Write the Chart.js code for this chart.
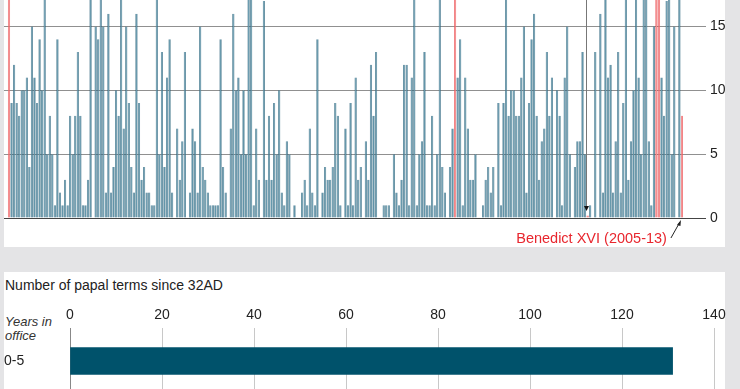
<!DOCTYPE html>
<html>
<head>
<meta charset="utf-8">
<script src="https://cdn.jsdelivr.net/npm/chart.js@4.4.0/dist/chart.umd.min.js"></script>
<style>
    body {
        margin: 0;
        width: 740px;
        height: 389px;
        overflow: hidden;
        position: relative;
        background: #e4e4e6;
        font-family: "Liberation Sans", Arial, sans-serif;
        color: #222;
    }
    .panel { position: absolute; left: 4px; width: 721px; background: #fff; }
    #topPanel { top: 0; height: 247px; }
    #bottomPanel { top: 272px; height: 130px; }
    #papalChart { position: absolute; left: 4px; top: 0; }
    #termsChart { position: absolute; left: 4px; top: 300px; }
    .title { position: absolute; left: 5px; top: 277px; font-size: 14px; }
    .axis-note { position: absolute; left: 5px; top: 315px; font-size: 13px; font-style: italic; line-height: 14px; color: #333; }
</style>
</head>
<body>
<div class="panel" id="topPanel"></div>
<div class="panel" id="bottomPanel"></div>
<canvas id="papalChart" width="721" height="247"></canvas>
<div class="title">Number of papal terms since 32AD</div>
<div class="axis-note">Years in<br>office</div>
<canvas id="termsChart" width="736" height="94"></canvas>

<script>
// Years in office, one entry per papal term (St Peter first)
const termYears = [
    34, 9, 12, 9, 8, 10, 10, 11, 4, 15,
    11, 9, 14, 10, 18, 5, 8, 5, 1, 14,
    2, 1, 3, 1, 8, 5, 8, 13, 8, 1,
    1, 3, 21, 0, 15, 14, 18, 15, 2, 16,
    2, 4, 10, 8, 21, 7, 15, 9, 4, 2,
    16, 9, 3, 4, 2, 2, 1, 1, 18, 5,
    13, 4, 11, 14, 2, 0, 7, 3, 6, 13,
    0, 2, 7, 6, 2, 15, 4, 3, 2, 1,
    1, 1, 1, 14, 4, 2, 0, 7, 16, 10,
    11, 5, 10, 5, 23, 20, 1, 7, 3, 0,
    17, 3, 8, 3, 9, 5, 10, 2, 1, 6,
    5, 0, 1, 0, 0, 2, 3, 1, 7, 2,
    1, 14, 0, 2, 4, 3, 3, 4, 9, 8,
    1, 0, 7, 1, 9, 1, 11, 3, 4, 0,
    6, 3, 12, 8, 13, 0, 0, 1, 1, 1,
    0, 5, 2, 1, 3, 12, 12, 1, 11, 18,
    1, 5, 6, 13, 1, 1, 8, 1, 5, 21,
    4, 2, 0, 4, 7, 18, 11, 14, 1, 11,
    7, 3, 3, 5, 0, 0, 1, 3, 4, 2,
    4, 0, 9, 1, 9, 18, 8, 10, 10, 8,
    8, 11, 15, 2, 9, 14, 16, 8, 3, 6,
    7, 13, 8, 11, 0, 10, 8, 1, 11, 15,
    5, 0, 4, 6, 6, 13, 5, 0.2, 1, 0,
    13, 0, 16, 2, 21, 11, 12, 2, 6, 13,
    2, 9, 20, 3, 6, 10, 18, 11, 5, 24,
    23, 6, 1, 15, 31, 25, 11, 8, 17, 19,
    5, 15, 0, 26, 8
];
const highlighted = [0, 175, 227, 254, 255, 264];
const shortestIndex = 227;
const latestIndex = 264;
const latestLabel = 'Benedict XVI (2005-13)';
const yearTicks = [0, 5, 10, 15];

const termBands = ['0-5'];
const termCounts = [131];

const teal = '#5f93a8';
const tealEdge = '#15536d';
const red = '#f38a8a';
const redEdge = '#e5262c';
const fontFamily = '"Liberation Sans", Arial, sans-serif';

// Pointer arrows next to the highlighted terms
const annotations = {
    id: 'annotations',
    afterDraw(chart) {
        const { ctx, scales: { x, y } } = chart;
        const zero = y.getPixelForValue(0);

        // thin pointer down to the shortest term
        const sx = Math.round(x.getPixelForValue(shortestIndex)) - 1.5;
        ctx.save();
        ctx.strokeStyle = '#777';
        ctx.lineWidth = 1;
        ctx.beginPath();
        ctx.moveTo(sx, 0);
        ctx.lineTo(sx, zero - 12);
        ctx.stroke();
        ctx.fillStyle = '#111';
        ctx.beginPath();
        ctx.moveTo(sx - 2.5, zero - 12);
        ctx.lineTo(sx + 2.5, zero - 12);
        ctx.lineTo(sx, zero - 7);
        ctx.closePath();
        ctx.fill();

        // label and arrow for the latest term
        const lx = x.getPixelForValue(latestIndex);
        ctx.strokeStyle = '#222';
        ctx.beginPath();
        ctx.moveTo(lx - 11, zero + 20);
        ctx.lineTo(lx - 2, zero + 4);
        ctx.stroke();
        ctx.fillStyle = '#222';
        ctx.beginPath();
        ctx.moveTo(lx - 1, zero + 2);
        ctx.lineTo(lx - 5, zero + 7);
        ctx.lineTo(lx - 1.5, zero + 8);
        ctx.closePath();
        ctx.fill();

        ctx.fillStyle = '#e8262e';
        ctx.font = '14.5px ' + fontFamily;
        ctx.textAlign = 'right';
        ctx.textBaseline = 'middle';
        ctx.fillText(latestLabel, lx - 15, zero + 21);
        ctx.restore();
    }
};

new Chart(document.getElementById('papalChart'), {
    type: 'bar',
    data: {
        datasets: [{
            data: termYears.map((v, i) => ({ x: i, y: v })),
            backgroundColor: termYears.map((v, i) => highlighted.includes(i) ? red : teal),
            borderColor: termYears.map((v, i) => highlighted.includes(i) ? redEdge : tealEdge),
            borderWidth: { left: 0.6, right: 0.6, top: 0, bottom: 0 },
            borderSkipped: 'start',
            categoryPercentage: 1,
            barPercentage: 0.86
        }]
    },
    options: {
        responsive: false,
        animation: false,
        layout: { padding: { top: 0, bottom: 29, left: 0, right: 0 } },
        plugins: { legend: { display: false }, tooltip: { enabled: false } },
        scales: {
            x: {
                type: 'linear',
                display: false,
                offset: false,
                min: -1.96,
                max: 273.44
            },
            y: {
                position: 'right',
                min: 0,
                max: 17.07,
                z: 1,
                afterBuildTicks: (scale) => { scale.ticks = yearTicks.map(v => ({ value: v })); },
                afterFit: (scale) => {
                    scale.width = 19;
                    scale.paddingTop = 0;
                    scale.paddingBottom = 0;
                },
                border: { display: false },
                grid: {
                    drawTicks: false,
                    color: (c) => c.tick && c.tick.value === 0 ? '#444' : 'rgba(70,70,70,0.6)'
                },
                ticks: {
                    padding: 4,
                    color: '#222',
                    font: { family: fontFamily, size: 14 }
                }
            }
        }
    },
    plugins: [annotations]
});

new Chart(document.getElementById('termsChart'), {
    type: 'bar',
    data: {
        labels: termBands,
        datasets: [{
            data: termCounts,
            backgroundColor: '#00526b',
            barThickness: 27
        }]
    },
    options: {
        indexAxis: 'y',
        responsive: false,
        animation: false,
        layout: { padding: { right: 26 } },
        plugins: { legend: { display: false }, tooltip: { enabled: false } },
        scales: {
            x: {
                position: 'top',
                min: 0,
                max: 140,
                afterFit: (scale) => {
                    scale.height = 28;
                    scale.paddingLeft = 0;
                    scale.paddingRight = 0;
                },
                border: { display: false },
                grid: {
                    drawTicks: false,
                    color: (c) => c.tick && c.tick.value === 0 ? '#888' : '#c8c8c8'
                },
                ticks: {
                    stepSize: 20,
                    padding: 4,
                    color: '#222',
                    font: { family: fontFamily, size: 14 }
                }
            },
            y: {
                afterFit: (scale) => {
                    scale.width = 66;
                    scale.paddingTop = 0;
                    scale.paddingBottom = 0;
                },
                border: { display: false },
                grid: { display: false },
                ticks: {
                    crossAlign: 'far',
                    padding: 0,
                    color: '#222',
                    font: { family: fontFamily, size: 14 }
                }
            }
        }
    }
});
</script>
</body>
</html>
